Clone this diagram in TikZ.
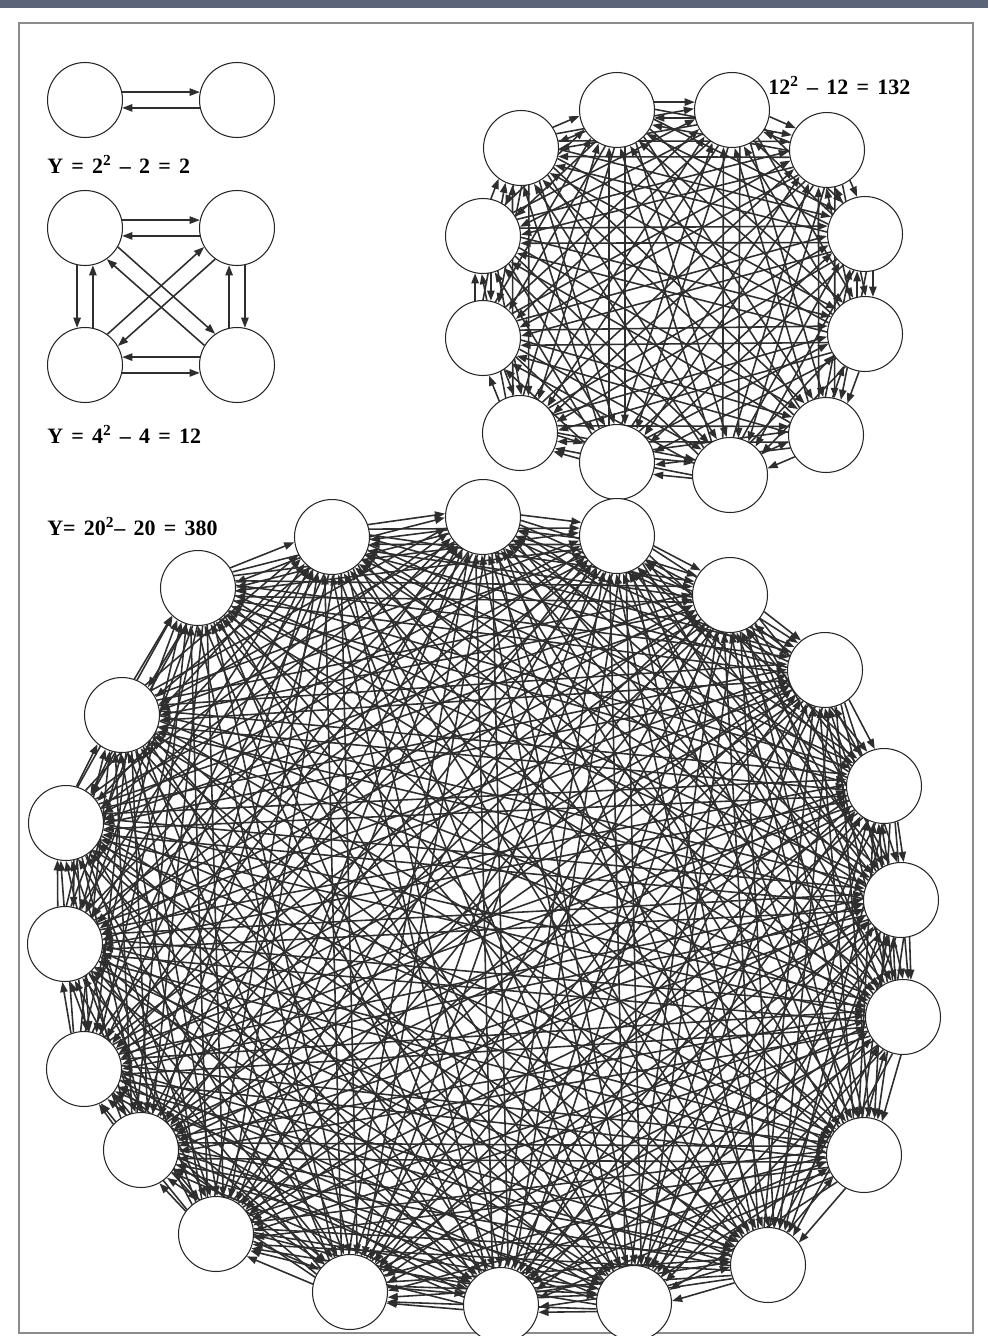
\documentclass[tikz,border=0pt]{standalone}
\usepackage{fontspec}
\setmainfont{Liberation Serif}
\newfontfamily\lblfont[WordSpace=1.5]{Liberation Serif}
\usetikzlibrary{arrows.meta,calc}

\definecolor{bandgray}{RGB}{92,100,121}
\pgfdeclarelayer{back}
\pgfsetlayers{back,main}

% one directed arc, shifted off the centre line by #1 degrees
\newcommand{\arcto}[3][12]{%
  \draw[link] let \p1=(#2.center), \p2=(#3.center),
    \n1={atan2(\y2-\y1,\x2-\x1)+#1}, \n2={atan2(\y2-\y1,\x2-\x1)+180-#1}
    in (#2.\n1) -- (#3.\n2);}

\tikzset{
  vertex/.style={circle, draw=black!85, line width=0.6pt, fill=white,
    minimum size=1.5cm, inner sep=0pt},
  link/.style={draw=black!82, line width=0.9pt,
    -{Triangle[length=5.8pt,width=4.2pt]}},
  lbl/.style={anchor=base west, inner sep=0pt,
    font=\lblfont\bfseries\fontsize{12.5}{14}\selectfont}
}

\begin{document}
\begin{tikzpicture}[x=0.02cm, y=-0.02cm]
\useasboundingbox (0,0) rectangle (988,1336);
\clip (0,0) rectangle (988,1336);

% band and frame
\fill[bandgray] (0,0) rectangle (988,8);
\draw[black!45, line width=1pt] (19,23) rectangle (973,1333);

% two nodes
\node[vertex] (p1) at (85,100) {};
\node[vertex] (p2) at (237,100) {};
\begin{pgfonlayer}{back}
\arcto{p1}{p2}
\arcto{p2}{p1}
\end{pgfonlayer}
\node[lbl] (l2) at (47,173) {Y = 2\textsuperscript{2} – 2 = 2};

% four nodes
\node[vertex] (q1) at (85,228) {};
\node[vertex] (q2) at (237,228) {};
\node[vertex] (q3) at (85,365) {};
\node[vertex] (q4) at (237,365) {};
\begin{pgfonlayer}{back}
\arcto{q1}{q2}
\arcto{q2}{q1}
\arcto[-12]{q1}{q3}
\arcto[-12]{q3}{q1}
\arcto{q2}{q4}
\arcto{q4}{q2}
\arcto[-12]{q4}{q3}
\arcto[-12]{q3}{q4}
\arcto{q1}{q4}
\arcto{q4}{q1}
\arcto{q2}{q3}
\arcto{q3}{q2}
\end{pgfonlayer}
\node[lbl] (l4) at (47,443) {Y = 4\textsuperscript{2} – 4 = 12};

% twelve nodes
\foreach \k/\x/\y in {1/617/110, 2/732/110, 3/827/150, 4/865/234,
    5/865/334, 6/826/435, 7/730/475, 8/617/462, 9/520/433,
    10/483/338, 11/483/236, 12/521/148}
  \node[vertex] (t\k) at (\x,\y) {};
\begin{pgfonlayer}{back}
\foreach \i in {1,...,12}
  \foreach \j in {1,...,12}
    {\ifnum\i=\j\else\arcto{t\i}{t\j}\fi}
\end{pgfonlayer}
\node[lbl] (l12) at (768,94) {12\textsuperscript{2} – 12 = 132};

% twenty nodes
\foreach \k/\x/\y in {1/332/537, 2/483/517, 3/617/536, 4/730/595,
    5/825/670, 6/884/786, 7/901/900, 8/903/1017, 9/864/1155,
    10/768/1265, 11/634/1303, 12/501/1305, 13/350/1292, 14/216/1234,
    15/141/1150, 16/84/1069, 17/65/944, 18/66/823, 19/122/715,
    20/198/588}
  \node[vertex] (b\k) at (\x,\y) {};
\begin{pgfonlayer}{back}
\foreach \i in {1,...,20}
  \foreach \j in {1,...,20}
    {\ifnum\i=\j\else\arcto{b\i}{b\j}\fi}
\end{pgfonlayer}
\node[lbl] (l20) at (47,535) {Y= 20\textsuperscript{2}– 20 = 380};
\end{tikzpicture}
\end{document}
